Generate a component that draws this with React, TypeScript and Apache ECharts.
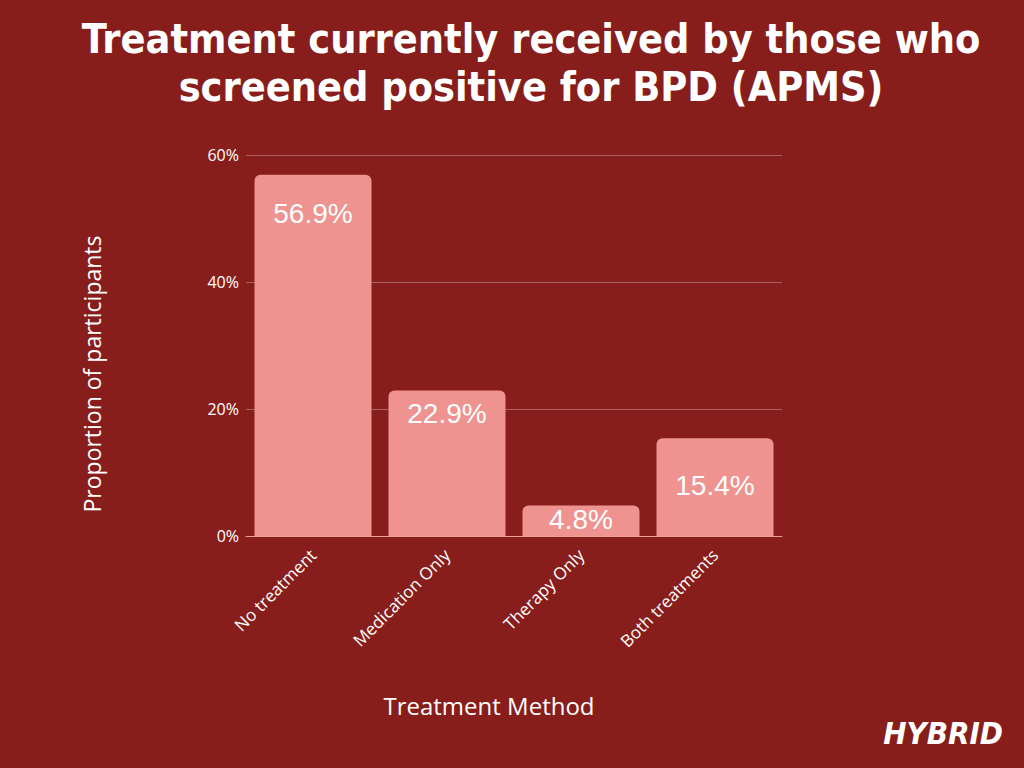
import React, { useEffect, useRef } from "react";
import * as echarts from "echarts";

const categories = ["No treatment", "Medication Only", "Therapy Only", "Both treatments"];
const values = [56.9, 22.9, 4.8, 15.4];
const yTicks = [0, 20, 40, 60];
const LABEL_DIST = [25, 9, 0, 33];

const BG = "#871e1c";
const BAR = "#ee938f";

export default function App() {
  const ref = useRef<HTMLDivElement>(null);
  useEffect(() => {
    if (!ref.current) return;
    const chart = echarts.init(ref.current, null, { renderer: "svg" });
    chart.setOption({
      animation: false,
      backgroundColor: BG,
      title: {
        text: "Treatment currently received by those who\nscreened positive for BPD (APMS)",
        left: 526,
        textAlign: "center",
        top: 10,
        textStyle: {
          color: "#ffffff",
          fontFamily: "'DejaVu Sans Condensed', 'DejaVu Sans', sans-serif",
          fontWeight: "bold",
          fontSize: 41,
          lineHeight: 48,
        },
      },
      grid: { left: 246, top: 155, width: 536, height: 381 },
      xAxis: {
        type: "category",
        data: categories,
        axisTick: { show: false },
        axisLine: { show: true, lineStyle: { color: "#e9a09c", width: 1 } },
        axisLabel: {
          rotate: 45,
          color: "#ffffff",
          fontFamily: "Open Sans",
          fontSize: 17,
          margin: 16,
          interval: 0,
        },
      },
      yAxis: {
        type: "value",
        min: 0,
        max: 60,
        interval: 20,
        axisLabel: {
          color: "#ffffff",
          fontFamily: "Open Sans",
          fontSize: 16,
          margin: 7,
          formatter: (v: number) => (yTicks.includes(v) ? v + "%" : ""),
        },
        axisLine: { show: false },
        axisTick: { show: false },
        splitLine: { lineStyle: { color: "rgba(255,255,255,0.3)", width: 1 } },
      },
      series: [
        {
          type: "bar",
          barWidth: 117,
          data: values.map((v, i) => ({
            value: v,
            label: { distance: LABEL_DIST[i] },
          })),
          itemStyle: { color: BAR, borderRadius: [6, 6, 0, 0] },
          label: {
            show: true,
            position: "insideTop",
            color: "#ffffff",
            fontFamily: "Liberation Sans",
            fontSize: 28,
            formatter: (p: any) => p.value.toFixed(1) + "%",
          },
        },
      ],
      graphic: [
        {
          type: "text",
          x: 489,
          y: 705,
          style: {
            text: "Treatment Method",
            fill: "#ffffff",
            font: "24px 'Open Sans'",
            align: "center",
            verticalAlign: "middle",
          },
        },
        {
          type: "text",
          x: 92,
          y: 374,
          rotation: Math.PI / 2,
          style: {
            text: "Proportion of participants",
            fill: "#ffffff",
            font: "23px 'Open Sans'",
            align: "center",
            verticalAlign: "middle",
          },
        },
        {
          type: "text",
          right: 21,
          top: 717,
          style: {
            text: "HYBRID",
            fill: "#ffffff",
            font: "italic 900 31px 'DejaVu Sans Condensed', 'DejaVu Sans', sans-serif",
          },
        },
      ],
    });
    return () => chart.dispose();
  }, []);
  return (
    <div
      ref={ref}
      style={{ position: "fixed", left: 0, top: 0, width: 1024, height: 768 }}
    />
  );
}
